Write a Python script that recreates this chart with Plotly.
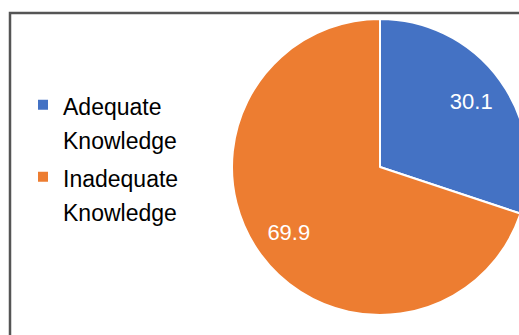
import plotly.graph_objects as go

categories = ["Adequate Knowledge", "Inadequate Knowledge"]
values = [30.1, 69.9]
colors = ["#4472C4", "#ED7D31"]

W, H = 560, 335

legend_labels = [
    "<br>".join("<span style='font-size:23px'>%s</span>" % w for w in c.split(" "))
    for c in categories
]

dom = dict(x=[232 / W, 528 / W], y=[20 / H, 316 / H])

fig = go.Figure()
fig.add_trace(
    go.Pie(
        labels=legend_labels,
        values=values,
        sort=False,
        direction="clockwise",
        rotation=0,
        marker=dict(colors=colors, line=dict(color="white", width=2)),
        textinfo="none",
        hoverinfo="label+value",
        domain=dom,
    )
)
# transparent ring carrying the value labels, so they sit further out
fig.add_trace(
    go.Pie(
        labels=legend_labels,
        values=values,
        sort=False,
        direction="clockwise",
        rotation=0,
        hole=0.52,
        showlegend=False,
        marker=dict(colors=["rgba(0,0,0,0)"] * 2, line=dict(width=0)),
        textinfo="value",
        textposition="inside",
        insidetextorientation="horizontal",
        textfont=dict(family="Liberation Sans, Arial", size=22, color="white"),
        hoverinfo="skip",
        domain=dom,
    )
)

fig.update_layout(
    width=W,
    height=H,
    autosize=False,
    margin=dict(l=0, r=0, t=0, b=0, pad=0),
    paper_bgcolor="white",
    plot_bgcolor="white",
    showlegend=True,
    legend=dict(
        x=23 / W,
        y=1 - 81 / H,
        xanchor="left",
        yanchor="top",
        valign="top",
        font=dict(family="Liberation Sans, Arial", size=26.5, color="black"),
        bgcolor="rgba(0,0,0,0)",
        traceorder="normal",
    ),
    shapes=[
        dict(
            type="rect",
            xref="paper",
            yref="paper",
            x0=10 / W,
            x1=1.2,
            y0=-0.2,
            y1=1 - 13 / H,
            line=dict(color="#555555", width=2.5),
            fillcolor="rgba(0,0,0,0)",
            layer="below",
        )
    ],
)

post = (
    "document.documentElement.style.overflow='hidden';"
    "document.body.style.overflow='hidden';"
    "document.body.style.margin='0';"
)
fig.write_html("out.html", post_script=post)
